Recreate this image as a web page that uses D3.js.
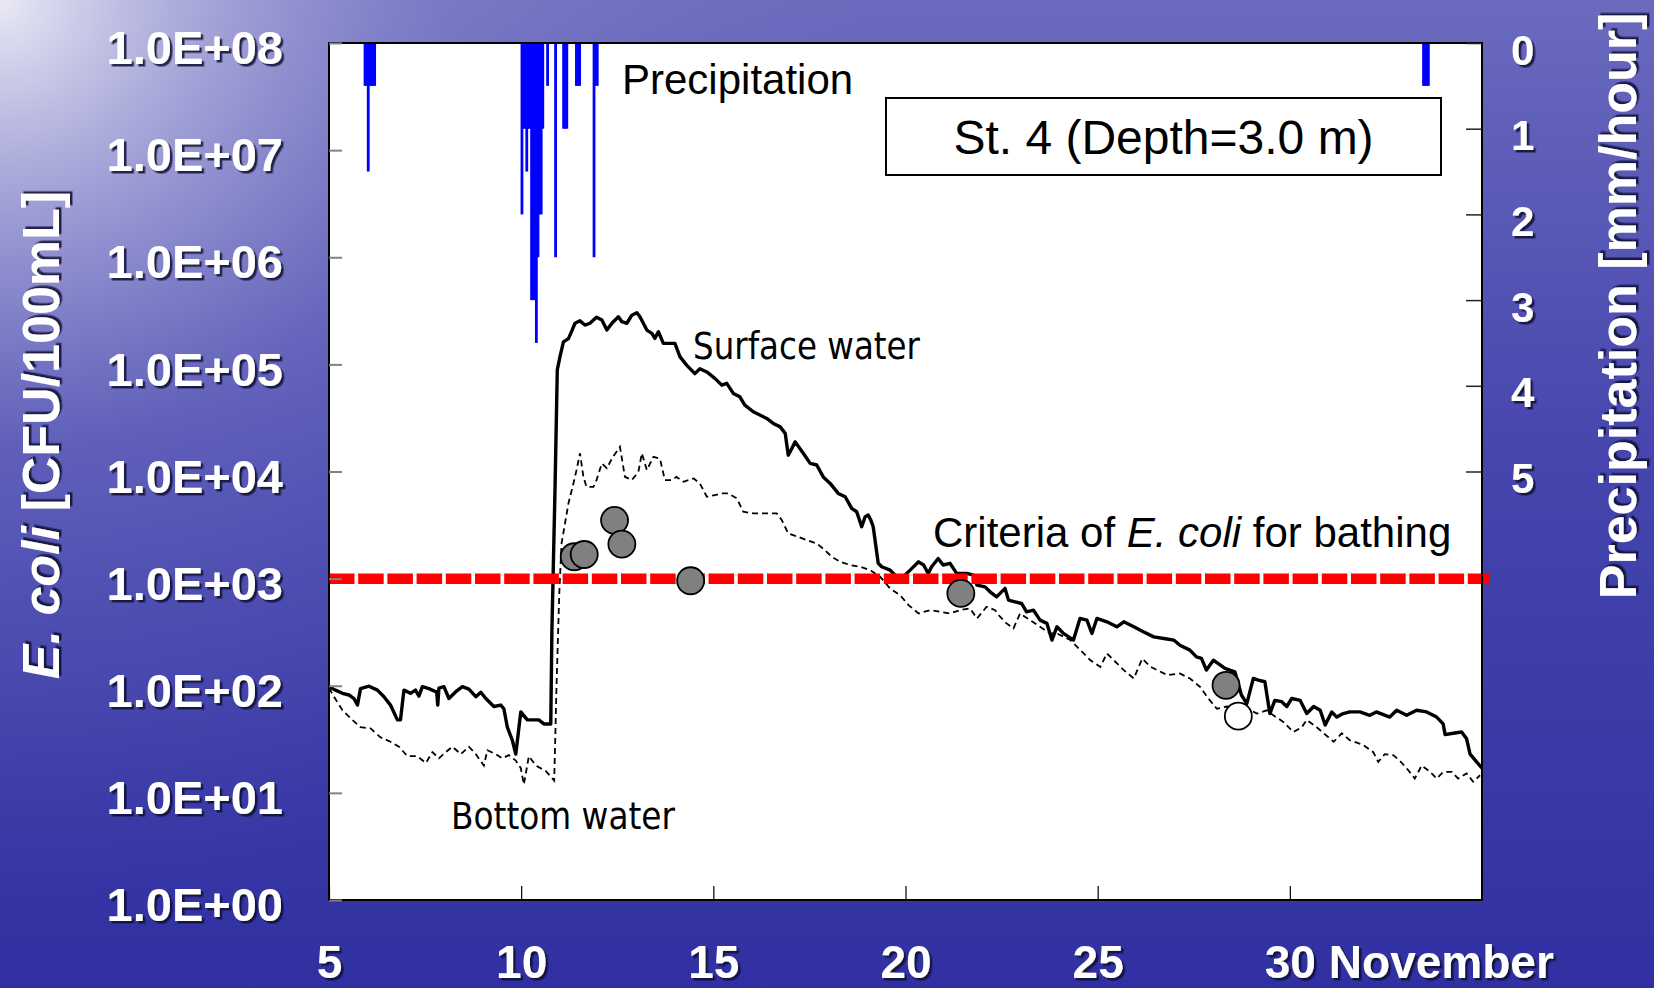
<!DOCTYPE html>
<html><head><meta charset="utf-8">
<script src="https://cdn.jsdelivr.net/npm/d3@7"></script>
<style>body{margin:0;overflow:hidden;background:#3434a4}</style>
</head><body>
<svg id="chart" width="1654" height="988"></svg>
<script>
// ---------- data ----------
const dayTicks = [5, 10, 15, 20, 25, 30];
const dayTickLabels = ["5", "10", "15", "20", "25", "30"];
const ecoliTicks = [1, 10, 100, 1e3, 1e4, 1e5, 1e6, 1e7, 1e8];
const ecoliTickLabels = ["1.0E+00","1.0E+01","1.0E+02","1.0E+03","1.0E+04","1.0E+05","1.0E+06","1.0E+07","1.0E+08"];
const precipTicks = [0, 1, 2, 3, 4, 5];
const precipTickLabels = ["0", "1", "2", "3", "4", "5"];
const criteriaValue = 1000;

// hourly precipitation: hours since 5 Nov 00:00, mm/hour
const precipHour = [22,23,24,25,26,27,28,120,121,122,123,124,125,126,127,128,129,130,131,132,133,136,141,146,147,148,154,155,156,165,166,167,683,684,685,686];
const precipMM   = [0.5,0.5,1.5,0.5,0.5,0.5,0.5,2.0,1.0,1.0,1.5,1.0,1.0,3.0,3.0,3.0,3.5,2.5,2.0,2.0,1.0,0.5,2.5,1.0,1.0,1.0,0.5,0.5,0.5,2.5,0.5,0.5,0.5,0.5,0.5,0.5];

// surface water E. coli [day of November, CFU/100mL]
const surfaceSeries = [[5.00,98],[5.17,91],[5.35,85],[5.52,82],[5.65,76],[5.74,66],[5.82,94],[6.04,99],[6.26,91],[6.43,79],[6.60,66],[6.78,48],[6.86,48],[6.95,91],[7.12,85],[7.25,91],[7.34,80],[7.43,98],[7.60,94],[7.78,88],[7.80,88],[7.83,66],[7.86,95],[7.99,98],[8.12,76],[8.30,88],[8.47,98],[8.64,93],[8.82,79],[8.95,87],[9.08,76],[9.29,64],[9.47,66],[9.55,61],[9.64,41],[9.77,31],[9.86,23],[9.99,57],[10.16,48],[10.46,48],[10.59,44],[10.77,44],[10.80,330],[10.88,6700],[10.94,89000],[11.01,118000],[11.10,162000],[11.23,174000],[11.31,202000],[11.40,242000],[11.53,255000],[11.66,233000],[11.79,242000],[11.96,275000],[12.10,259000],[12.23,209000],[12.36,242000],[12.53,278000],[12.62,250000],[12.75,242000],[12.88,288000],[13.01,303000],[13.09,278000],[13.27,209000],[13.40,195000],[13.48,175000],[13.57,202000],[13.70,157000],[14.00,157000],[14.13,118000],[14.31,98000],[14.52,82000],[14.65,91000],[14.83,85000],[15.04,74000],[15.22,64000],[15.35,66500],[15.52,53600],[15.69,49800],[15.82,41700],[16.04,36100],[16.21,33700],[16.39,31300],[16.56,28100],[16.74,26100],[16.87,22700],[16.95,14200],[17.13,18900],[17.34,14800],[17.52,11900],[17.69,11500],[17.86,8900],[18.04,7740],[18.25,6240],[18.43,5810],[18.60,4520],[18.73,4210],[18.86,3050],[18.95,3780],[19.03,3920],[19.10,3500],[19.16,3050],[19.29,1390],[19.38,1290],[19.60,1200],[19.77,1040],[19.86,968],[19.99,1080],[20.12,1200],[20.34,1435],[20.47,1340],[20.59,1120],[20.68,1290],[20.85,1540],[20.98,1340],[21.16,1390],[21.33,1120],[21.59,1120],[21.77,1080],[21.86,870],[22.07,838],[22.20,753],[22.37,676],[22.59,811],[22.68,630],[22.85,608],[23.02,586],[23.15,490],[23.33,508],[23.50,410],[23.68,382],[23.81,267],[23.94,355],[24.11,308],[24.37,267],[24.54,425],[24.72,410],[24.85,308],[24.98,425],[25.24,395],[25.50,355],[25.68,395],[25.94,355],[26.20,318],[26.46,286],[26.72,276],[26.98,267],[27.14,239],[27.40,215],[27.57,186],[27.70,180],[27.83,140],[28.01,173],[28.14,161],[28.31,145],[28.57,135],[28.74,82],[28.88,68],[29.05,117],[29.18,113],[29.35,109],[29.48,55],[29.61,73],[29.79,71],[29.92,64],[30.05,76],[30.27,73],[30.44,55],[30.62,64],[30.79,59],[30.92,43],[31.09,57],[31.22,51],[31.39,55],[31.56,57],[31.82,57],[32.08,53],[32.25,57],[32.60,51],[32.78,59],[33.04,53],[33.30,59],[33.56,57],[33.82,51],[33.99,44],[34.04,35],[34.25,36],[34.47,37],[34.60,32],[34.69,23],[34.86,19.5],[35.00,17]];

// bottom water E. coli [day of November, CFU/100mL]
const bottomSeries = [[5.00,95],[5.13,79],[5.35,59],[5.61,48],[5.82,41],[6.08,40],[6.34,33],[6.60,30],[6.82,27],[7.04,22],[7.30,22],[7.52,19],[7.69,24],[7.86,21],[8.04,24],[8.21,27],[8.43,23],[8.64,27],[8.82,23],[9.03,18],[9.12,25],[9.34,23],[9.51,21],[9.68,22.5],[9.86,20],[9.99,17],[10.07,12],[10.20,22],[10.38,18],[10.64,16],[10.86,13],[10.92,100],[10.99,700],[11.05,2130],[11.14,3270],[11.23,5040],[11.36,7740],[11.44,10300],[11.53,14800],[11.62,8900],[11.70,7190],[11.88,7190],[11.96,8320],[12.10,11900],[12.23,10700],[12.36,13200],[12.57,17000],[12.70,8900],[12.88,8320],[13.05,9930],[13.14,14800],[13.27,10300],[13.44,13700],[13.61,13200],[13.74,8320],[13.91,8320],[14.04,8900],[14.22,8020],[14.49,8610],[14.65,7740],[14.83,5810],[15.04,6030],[15.22,6240],[15.39,6240],[15.61,5610],[15.78,4210],[16.04,4060],[16.39,4060],[16.65,4060],[16.78,3520],[16.95,2640],[17.21,2450],[17.43,2290],[17.69,2130],[17.90,1850],[18.08,1600],[18.30,1435],[18.56,1340],[18.82,1290],[19.08,1200],[19.34,1040],[19.60,810],[19.86,700],[20.08,566],[20.34,473],[20.64,508],[20.90,490],[21.16,473],[21.42,508],[21.68,527],[21.86,425],[22.11,546],[22.33,508],[22.46,441],[22.63,382],[22.81,343],[22.98,473],[23.24,410],[23.50,355],[23.76,308],[23.94,308],[24.29,267],[24.55,215],[24.81,173],[25.07,150],[25.24,200],[25.42,173],[25.68,140],[25.94,117],[26.16,179],[26.38,150],[26.81,126],[27.14,130],[27.40,117],[27.66,98],[27.88,76],[28.10,61],[28.36,64],[28.92,61],[29.14,55],[29.40,59],[29.57,53],[29.83,46],[30.09,37],[30.31,41],[30.44,48],[30.70,41],[30.88,36],[31.14,30],[31.35,36],[31.56,31],[31.91,28],[32.17,24],[32.30,19.5],[32.47,23],[32.69,22.5],[32.86,20],[33.08,16.3],[33.25,13.6],[33.43,18],[33.65,15.7],[33.82,13.6],[33.99,15.7],[34.21,15.7],[34.38,13.6],[34.60,15.2],[34.77,12.7],[34.95,14.6]];

// observed samples
const sampleDay   = [11.38, 11.64, 12.43, 12.62, 14.41, 21.44, 28.34];
const sampleValue = [1600, 1680, 3500, 2100, 955, 728, 101];
const openSampleDay   = [28.66];
const openSampleValue = [52];

// ---------- layout ----------
const W = 1654, H = 988;
const L = 329, R = 1482, T = 43, B = 900;
const svg = d3.select("#chart");
const defs = svg.append("defs");

const lin = defs.append("linearGradient").attr("id", "bgl")
  .attr("gradientUnits", "userSpaceOnUse").attr("x1", 0).attr("y1", 0).attr("x2", 0).attr("y2", H);
[[0,"#6a6abe"],[0.45,"#4646ae"],[1,"#3030a2"]]
  .forEach(([o,c]) => lin.append("stop").attr("offset", o).attr("stop-color", c));
const rad = defs.append("radialGradient").attr("id", "bgr")
  .attr("gradientUnits", "userSpaceOnUse").attr("cx", 0).attr("cy", 0).attr("r", 900);
[[0,"#f0f0f8",0.95],[0.2,"#c8c8e8",0.7],[0.5,"#9a9ad6",0.3],[1,"#8080c8",0]]
  .forEach(([o,c,a]) => rad.append("stop").attr("offset", o).attr("stop-color", c).attr("stop-opacity", a));

const sh = defs.append("filter").attr("id", "sh").attr("x", "-10%").attr("y", "-10%").attr("width", "130%").attr("height", "130%");
sh.append("feDropShadow").attr("dx", 2.5).attr("dy", 2.5).attr("stdDeviation", 0.6)
  .attr("flood-color", "#0c0c30").attr("flood-opacity", 0.85);

defs.append("clipPath").attr("id", "plotclip").append("rect")
  .attr("x", L).attr("y", T).attr("width", R - L).attr("height", B - T);

svg.append("rect").attr("width", W).attr("height", H).attr("fill", "url(#bgl)");
svg.append("rect").attr("width", W).attr("height", H).attr("fill", "url(#bgr)");
svg.append("rect").attr("x", L).attr("y", T).attr("width", R - L).attr("height", B - T).attr("fill", "#fff");

// ---------- scales ----------
const x = d3.scaleLinear().domain([5, 35]).range([L, R]);
const y = d3.scaleLog().domain([1, 1e8]).range([B, T]);
const yp = d3.scaleLinear().domain([0, 10]).range([T, B]);
const hourToDay = h => 5 + h / 24;

const plot = svg.append("g").attr("clip-path", "url(#plotclip)");

// precipitation bars (hanging from top)
plot.append("g").selectAll("rect").data(precipHour).join("rect")
  .attr("x", h => x(hourToDay(h)) - 0.6)
  .attr("width", h => x(hourToDay(h + 1)) - x(hourToDay(h)) + 1.2)
  .attr("y", yp(0))
  .attr("height", (h, i) => yp(precipMM[i]) - yp(0))
  .attr("fill", "#0000ff");

// criteria line
svg.append("line").attr("x1", L).attr("x2", R + 7)
  .attr("y1", y(criteriaValue)).attr("y2", y(criteriaValue))
  .attr("stroke", "#ff0000").attr("stroke-width", 10.5).attr("stroke-dasharray", "25.5,3.7");

const line = d3.line().x(d => x(d[0])).y(d => y(d[1]));
plot.append("path").datum(bottomSeries).attr("d", line)
  .attr("fill", "none").attr("stroke", "#000").attr("stroke-width", 1.8).attr("stroke-dasharray", "6,4");
plot.append("path").datum(surfaceSeries).attr("d", line)
  .attr("fill", "none").attr("stroke", "#000").attr("stroke-width", 3.4).attr("stroke-linejoin", "round");

// samples
svg.append("g").selectAll("circle").data(sampleDay).join("circle")
  .attr("cx", d => x(d)).attr("cy", (d, i) => y(sampleValue[i])).attr("r", 13.5)
  .attr("fill", "#808080").attr("stroke", "#000").attr("stroke-width", 1.8);
svg.append("g").selectAll("circle").data(openSampleDay).join("circle")
  .attr("cx", d => x(d)).attr("cy", (d, i) => y(openSampleValue[i])).attr("r", 13.5)
  .attr("fill", "#fff").attr("stroke", "#000").attr("stroke-width", 1.8);

// frame
svg.append("rect").attr("x", L).attr("y", T).attr("width", R - L).attr("height", B - T)
  .attr("fill", "none").attr("stroke", "#000").attr("stroke-width", 2);

// ---------- axes ----------
const tickFont = "'Liberation Sans', Arial, sans-serif";

const gy = svg.append("g").attr("transform", `translate(${L},0)`)
  .call(d3.axisLeft(y).tickValues(ecoliTicks).tickFormat((d, i) => ecoliTickLabels[i])
    .tickSizeInner(-13).tickSizeOuter(0).tickPadding(46));
gy.select(".domain").remove();
gy.selectAll(".tick line").attr("stroke", "#808080").attr("stroke-width", 2);
gy.selectAll(".tick text").attr("fill", "#fff").attr("dy", "0.44em")
  .style("font-family", tickFont).style("font-size", "47px").style("font-weight", "bold")
  .attr("filter", "url(#sh)");

const gr = svg.append("g").attr("transform", `translate(${R},0)`)
  .call(d3.axisRight(yp).tickValues(precipTicks).tickFormat((d, i) => precipTickLabels[i])
    .tickSizeInner(-16).tickSizeOuter(0).tickPadding(29));
gr.select(".domain").remove();
gr.selectAll(".tick line").attr("stroke", "#222").attr("stroke-width", 1.5);
gr.selectAll(".tick text").attr("fill", "#fff").attr("dy", "0.5em")
  .style("font-family", tickFont).style("font-size", "42px").style("font-weight", "bold")
  .attr("filter", "url(#sh)");

const gx = svg.append("g").attr("transform", `translate(0,${B})`)
  .call(d3.axisBottom(x).tickValues(dayTicks).tickFormat((d, i) => dayTickLabels[i])
    .tickSizeInner(-14).tickSizeOuter(0).tickPadding(45));
gx.select(".domain").remove();
gx.selectAll(".tick line").attr("stroke", "#000").attr("stroke-width", 1.2);
gx.selectAll(".tick text").attr("fill", "#fff")
  .style("font-family", tickFont).style("font-size", "46px").style("font-weight", "bold")
  .attr("filter", "url(#sh)");

svg.append("text").attr("x", x(30) + 39).attr("y", B + 45).attr("dy", "0.71em")
  .attr("fill", "#fff").attr("filter", "url(#sh)")
  .style("font-family", tickFont).style("font-size", "46px").style("font-weight", "bold")
  .text("November");

// axis titles
const lt = svg.append("text").attr("transform", "translate(59,435) rotate(-90)")
  .attr("text-anchor", "middle").attr("fill", "#fff").attr("filter", "url(#sh)")
  .style("font-family", tickFont).style("font-size", "52px").style("font-weight", "bold");
lt.append("tspan").style("font-style", "italic").text("E. coli");
lt.append("tspan").text(" [CFU/100mL]");

svg.append("text").attr("transform", "translate(1636,306) rotate(-90)")
  .attr("text-anchor", "middle").attr("fill", "#fff").attr("filter", "url(#sh)")
  .style("font-family", tickFont).style("font-size", "52px").style("font-weight", "bold")
  .text("Precipitation [mm/hour]");

// ---------- annotations ----------
svg.append("text").attr("x", 622).attr("y", 94)
  .style("font-family", tickFont).style("font-size", "42px").attr("fill", "#000")
  .text("Precipitation");

svg.append("rect").attr("x", 886).attr("y", 98).attr("width", 555).attr("height", 77)
  .attr("fill", "#fff").attr("stroke", "#000").attr("stroke-width", 2);
svg.append("text").attr("x", 1163.5).attr("y", 154).attr("text-anchor", "middle")
  .style("font-family", tickFont).style("font-size", "48px").attr("fill", "#000")
  .text("St. 4 (Depth=3.0 m)");

svg.append("text").attr("x", 693).attr("y", 359)
  .attr("textLength", 227).attr("lengthAdjust", "spacingAndGlyphs")
  .style("font-family", "'DejaVu Sans', Verdana, sans-serif").style("font-size", "37px").attr("fill", "#000")
  .text("Surface water");

svg.append("text").attr("x", 451).attr("y", 829)
  .attr("textLength", 224).attr("lengthAdjust", "spacingAndGlyphs")
  .style("font-family", "'DejaVu Sans', Verdana, sans-serif").style("font-size", "37px").attr("fill", "#000")
  .text("Bottom water");

const ct = svg.append("text").attr("x", 933).attr("y", 547)
  .style("font-family", tickFont).style("font-size", "42px").attr("fill", "#000");
ct.append("tspan").text("Criteria of ");
ct.append("tspan").style("font-style", "italic").text("E. coli");
ct.append("tspan").text(" for bathing");
</script>
</body></html>
